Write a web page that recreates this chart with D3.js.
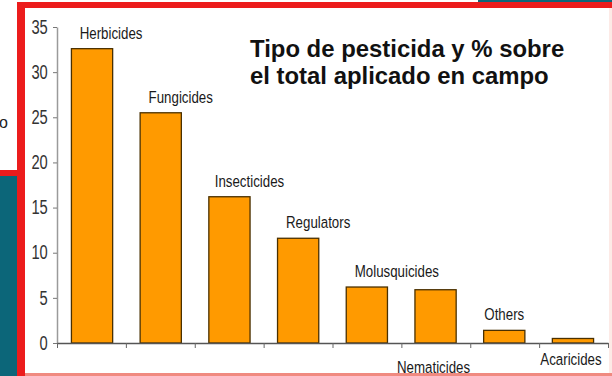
<!DOCTYPE html>
<html>
<head>
<meta charset="utf-8">
<script src="https://cdn.jsdelivr.net/npm/d3@7"></script>
<style>
  html, body { margin: 0; padding: 0; background: #fff; }
  svg { display: block; }
  text { font-family: "Liberation Sans", Arial, Helvetica, sans-serif; }
</style>
</head>
<body>
<svg id="chart" width="612" height="376"></svg>
<script>
// Share of each pesticide type in the total applied in the field (%)
const categories = ["Herbicides", "Fungicides", "Insecticides", "Regulators",
                    "Molusquicides", "Nematicides", "Others", "Acaricides"];
const shares = [32.6, 25.5, 16.2, 11.6, 6.2, 5.9, 1.4, 0.5];
const yTickValues = [0, 5, 10, 15, 20, 25, 30, 35];
const titleLines = ["Tipo de pesticida y % sobre", "el total aplicado en campo"];

// Label placement: horizontal shift from the bar centre, and which labels sit under the axis
const labelShift = [19, 20, 20, 20, 30, -2, 0, -2];
const labelUnder = [0, 0, 0, 0, 0, 30, 0, 22];

const svg = d3.select("#chart");
const W = 612, H = 376;
const RED = "#ec1c1c", TEAL = "#0c6679";

// Slide frame around the chart
svg.append("rect").attr("width", W).attr("height", H).attr("fill", "#fff");
svg.append("text").attr("x", -1).attr("y", 128).attr("font-size", 16)
  .attr("fill", "#222").text("o");
svg.append("rect").attr("x", 0).attr("y", 176).attr("width", 18).attr("height", H - 176).attr("fill", TEAL);
svg.append("rect").attr("x", 478).attr("y", 0).attr("width", W - 478).attr("height", 3).attr("fill", TEAL);
svg.append("rect").attr("x", 0).attr("y", 170).attr("width", 20).attr("height", 6).attr("fill", RED);
svg.append("rect").attr("x", 17).attr("y", 2).attr("width", W - 17).attr("height", 6).attr("fill", RED);
svg.append("rect").attr("x", 17).attr("y", 2).attr("width", 8).attr("height", H - 2).attr("fill", RED);
svg.append("rect").attr("x", 25).attr("y", 373).attr("width", W - 25).attr("height", 3).attr("fill", "#f08a80");
svg.append("rect").attr("x", 609).attr("y", 8).attr("width", 3).attr("height", 365).attr("fill", "#fdeae6");

// Scales
const x0 = 57, x1 = 608, yBase = 343, yTop = 27;
const y = d3.scaleLinear().domain([0, 35]).range([yBase, yTop]);
const band = d3.scaleBand().domain(categories).range([x0, x1])
  .paddingInner(0.40).paddingOuter(0.21);
const slots = d3.scaleLinear().domain([0, categories.length]).range([x0, x1]);

// Bars
svg.append("g").selectAll("rect").data(categories).join("rect")
  .attr("x", d => band(d))
  .attr("y", (d, i) => y(shares[i]))
  .attr("width", band.bandwidth())
  .attr("height", (d, i) => y(0) - y(shares[i]))
  .attr("fill", "#ff9a00")
  .attr("stroke", "#4a3000")
  .attr("stroke-width", 1.3);

// Y axis
const yAxis = svg.append("g").attr("transform", `translate(${x0},0)`)
  .call(d3.axisLeft(y).tickValues(yTickValues).tickSize(4).tickSizeOuter(0).tickPadding(6));
yAxis.select(".domain").attr("stroke", "#9a9a9a").attr("stroke-width", 1.5);
yAxis.selectAll(".tick line").attr("stroke", "#777");
yAxis.selectAll(".tick text")
  .attr("font-size", 16)
  .attr("fill", "#333")
  .attr("font-family", "\"Liberation Sans\", Arial, sans-serif")
  .attr("transform", "scale(0.92,1.22)");

// X axis: ticks mark the category boundaries
const xAxis = svg.append("g").attr("transform", `translate(0,${yBase})`)
  .call(d3.axisBottom(slots).tickValues(d3.range(categories.length + 1))
    .tickSize(5).tickSizeOuter(0).tickFormat(""));
xAxis.select(".domain").attr("stroke", "#555").attr("stroke-width", 1.3);
xAxis.selectAll(".tick line").attr("stroke", "#666");

// Category labels
svg.append("g").selectAll("text").data(categories).join("text")
  .attr("transform", (d, i) => {
    const cx = band(d) + band.bandwidth() / 2 + labelShift[i];
    const cy = labelUnder[i] ? yBase + labelUnder[i] : y(shares[i]) - 10;
    return `translate(${cx},${cy}) scale(0.95,1.2)`;
  })
  .attr("text-anchor", "middle")
  .attr("font-size", 14)
  .attr("fill", "#1a1a1a")
  .text(d => d);

// Title
svg.append("g").selectAll("text").data(titleLines).join("text")
  .attr("x", 250)
  .attr("y", (d, i) => 57 + i * 27)
  .attr("font-size", 23.9)
  .attr("font-weight", "bold")
  .attr("fill", "#111")
  .text(d => d);
</script>
</body>
</html>
